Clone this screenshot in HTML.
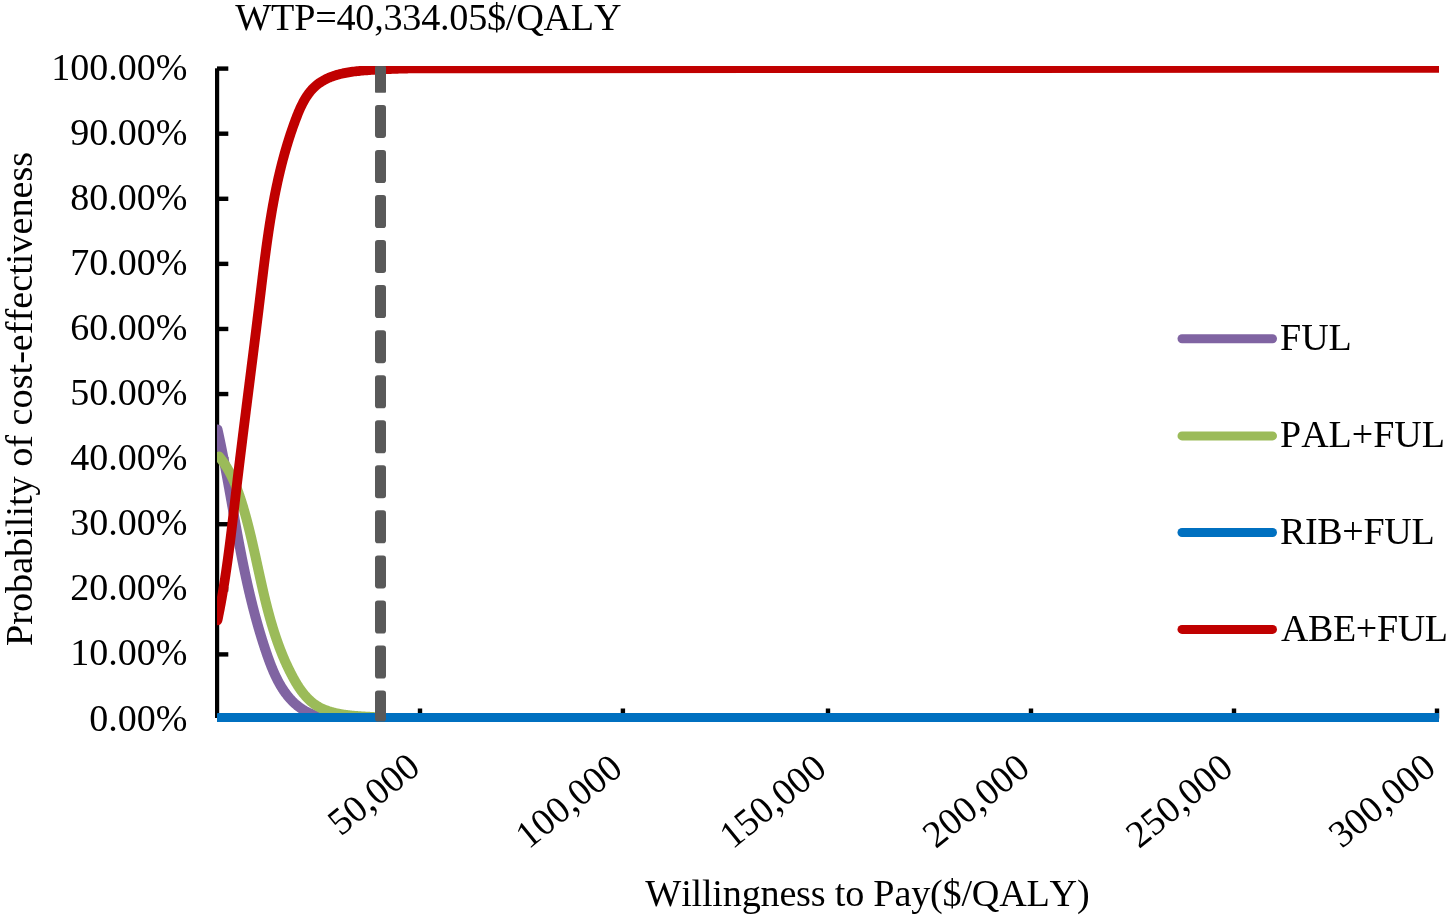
<!DOCTYPE html>
<html><head><meta charset="utf-8"><style>
html,body{margin:0;padding:0;background:#fff;overflow:hidden;}
svg{display:block;will-change:transform;}
text{font-family:"Liberation Serif",serif;font-size:38px;fill:#000;font-kerning:none;}
</style></head><body>
<svg width="1451" height="919" viewBox="0 0 1451 919">
<defs><clipPath id="plot"><rect x="217" y="66" width="1222" height="660"/></clipPath></defs>
<rect width="1451" height="919" fill="#fff"/>
<text x="235.3" y="29.8" style="font-size:38.2px" textLength="386.2" lengthAdjust="spacing">WTP=40,334.05$/QALY</text>
<rect x="215" y="68.3" width="4.2" height="649.3" fill="#000"/>
<rect x="215" y="714" width="1222" height="4" fill="#000"/>
<rect x="217" y="717.30" width="11.3" height="4.4" fill="#000"/><rect x="217" y="652.21" width="11.3" height="4.4" fill="#000"/><rect x="217" y="587.12" width="11.3" height="4.4" fill="#000"/><rect x="217" y="522.03" width="11.3" height="4.4" fill="#000"/><rect x="217" y="456.94" width="11.3" height="4.4" fill="#000"/><rect x="217" y="391.85" width="11.3" height="4.4" fill="#000"/><rect x="217" y="326.76" width="11.3" height="4.4" fill="#000"/><rect x="217" y="261.67" width="11.3" height="4.4" fill="#000"/><rect x="217" y="196.58" width="11.3" height="4.4" fill="#000"/><rect x="217" y="131.49" width="11.3" height="4.4" fill="#000"/><rect x="217" y="66.40" width="11.3" height="4.4" fill="#000"/>
<rect x="417.80" y="708.5" width="4.4" height="10" fill="#000"/><rect x="620.70" y="708.5" width="4.4" height="10" fill="#000"/><rect x="825.80" y="708.5" width="4.4" height="10" fill="#000"/><rect x="1028.80" y="708.5" width="4.4" height="10" fill="#000"/><rect x="1231.80" y="708.5" width="4.4" height="10" fill="#000"/><rect x="1434.80" y="708.5" width="4.4" height="10" fill="#000"/>
<g><text x="187.5" y="730.50" text-anchor="end">0.00%</text><text x="187.5" y="665.41" text-anchor="end">10.00%</text><text x="187.5" y="600.32" text-anchor="end">20.00%</text><text x="187.5" y="535.23" text-anchor="end">30.00%</text><text x="187.5" y="470.14" text-anchor="end">40.00%</text><text x="187.5" y="405.05" text-anchor="end">50.00%</text><text x="187.5" y="339.96" text-anchor="end">60.00%</text><text x="187.5" y="274.87" text-anchor="end">70.00%</text><text x="187.5" y="209.78" text-anchor="end">80.00%</text><text x="187.5" y="144.69" text-anchor="end">90.00%</text><text x="187.5" y="79.60" text-anchor="end">100.00%</text></g>
<g><text transform="translate(422.00,770.90) rotate(-39)" text-anchor="end">50,000</text><text transform="translate(624.60,772.00) rotate(-39)" text-anchor="end">100,000</text><text transform="translate(828.50,772.00) rotate(-39)" text-anchor="end">150,000</text><text transform="translate(1031.80,771.60) rotate(-39)" text-anchor="end">200,000</text><text transform="translate(1234.90,771.50) rotate(-39)" text-anchor="end">250,000</text><text transform="translate(1437.70,771.40) rotate(-39)" text-anchor="end">300,000</text></g>
<g clip-path="url(#plot)" fill="none" stroke-width="9" stroke-linejoin="round" stroke-linecap="round">
<path d="M217.57,429.59 L217.72,430.26 L217.86,430.92 L218.01,431.59 L218.15,432.25 L218.29,432.91 L218.44,433.58 L218.58,434.24 L218.72,434.90 L218.87,435.57 L219.01,436.23 L219.15,436.89 L219.29,437.55 L219.43,438.22 L219.57,438.88 L219.71,439.54 L219.85,440.21 L219.99,440.87 L220.12,441.53 L220.26,442.19 L220.40,442.85 L220.54,443.52 L220.67,444.18 L220.81,444.84 L220.94,445.50 L221.08,446.17 L221.21,446.83 L221.35,447.49 L221.48,448.15 L221.62,448.81 L221.75,449.47 L221.88,450.14 L222.02,450.80 L222.15,451.46 L222.28,452.12 L222.41,452.78 L222.54,453.44 L222.67,454.10 L222.80,454.76 L222.93,455.42 L223.06,456.09 L223.19,456.75 L223.32,457.41 L223.45,458.07 L223.58,458.73 L223.71,459.39 L223.84,460.05 L223.97,460.71 L224.09,461.37 L224.22,462.03 L224.35,462.69 L224.47,463.35 L224.60,464.01 L224.73,464.67 L224.85,465.33 L224.98,465.99 L225.10,466.65 L225.23,467.31 L225.35,467.97 L225.48,468.63 L225.60,469.29 L225.72,469.95 L225.85,470.61 L225.97,471.27 L226.09,471.93 L226.22,472.59 L226.34,473.24 L226.46,473.90 L226.59,474.56 L226.71,475.22 L226.83,475.88 L226.95,476.54 L227.07,477.20 L227.19,477.86 L227.32,478.52 L227.44,479.17 L227.56,479.83 L227.68,480.49 L227.80,481.15 L227.92,481.81 L228.04,482.47 L228.16,483.12 L228.28,483.78 L228.40,484.44 L228.52,485.10 L228.64,485.76 L228.76,486.41 L228.88,487.07 L229.00,487.73 L229.12,488.39 L229.23,489.05 L229.35,489.70 L229.47,490.36 L229.59,491.02 L229.71,491.68 L229.83,492.33 L229.94,492.99 L230.06,493.65 L230.18,494.31 L230.30,494.96 L230.42,495.62 L230.53,496.28 L230.65,496.93 L230.77,497.59 L230.89,498.25 L231.01,498.91 L231.12,499.56 L231.24,500.22 L231.36,500.88 L231.47,501.53 L231.59,502.19 L231.71,502.85 L231.83,503.50 L231.94,504.16 L232.06,504.82 L232.18,505.47 L232.30,506.13 L232.41,506.78 L232.53,507.44 L232.65,508.10 L232.76,508.75 L232.88,509.41 L233.00,510.07 L233.12,510.72 L233.23,511.38 L233.35,512.03 L233.47,512.69 L233.59,513.34 L233.70,514.00 L233.82,514.66 L233.94,515.31 L234.06,515.97 L234.17,516.62 L234.29,517.28 L234.41,517.93 L234.53,518.59 L234.64,519.24 L234.76,519.90 L234.88,520.56 L235.00,521.21 L235.12,521.87 L235.23,522.52 L235.35,523.18 L235.47,523.83 L235.59,524.49 L235.71,525.14 L235.83,525.80 L235.95,526.45 L236.07,527.11 L236.19,527.76 L236.30,528.42 L236.42,529.07 L236.54,529.73 L236.66,530.38 L236.78,531.03 L236.90,531.69 L237.02,532.34 L237.14,533.00 L237.27,533.65 L237.39,534.31 L237.51,534.96 L237.63,535.62 L237.75,536.27 L237.87,536.93 L237.99,537.58 L238.11,538.23 L238.24,538.89 L238.36,539.54 L238.48,540.20 L238.60,540.85 L238.73,541.50 L238.85,542.16 L238.97,542.81 L239.10,543.47 L239.22,544.12 L239.34,544.77 L239.47,545.43 L239.59,546.08 L239.72,546.74 L239.84,547.39 L239.97,548.04 L240.09,548.70 L240.22,549.35 L240.35,550.00 L240.47,550.66 L240.60,551.31 L240.73,551.96 L240.85,552.62 L240.98,553.27 L241.11,553.93 L241.24,554.58 L241.37,555.23 L241.49,555.89 L241.62,556.54 L241.75,557.19 L241.88,557.85 L242.01,558.50 L242.14,559.15 L242.27,559.80 L242.40,560.46 L242.54,561.11 L242.67,561.76 L242.80,562.42 L242.93,563.07 L243.06,563.72 L243.20,564.38 L243.33,565.03 L243.46,565.68 L243.60,566.34 L243.73,566.99 L243.87,567.64 L244.00,568.29 L244.14,568.95 L244.28,569.60 L244.41,570.25 L244.55,570.90 L244.69,571.56 L244.82,572.21 L244.96,572.86 L245.10,573.52 L245.24,574.17 L245.38,574.82 L245.52,575.47 L245.66,576.13 L245.80,576.78 L245.94,577.43 L246.08,578.08 L246.23,578.74 L246.37,579.39 L246.51,580.04 L246.66,580.69 L246.80,581.35 L246.94,582.00 L247.09,582.65 L247.24,583.30 L247.38,583.96 L247.53,584.61 L247.67,585.26 L247.82,585.91 L247.97,586.56 L248.12,587.22 L248.27,587.87 L248.42,588.52 L248.57,589.17 L248.72,589.83 L248.87,590.48 L249.02,591.13 L249.17,591.78 L249.33,592.43 L249.48,593.09 L249.63,593.74 L249.79,594.39 L249.94,595.04 L250.10,595.69 L250.25,596.35 L250.41,597.00 L250.57,597.65 L250.73,598.30 L250.88,598.95 L251.04,599.61 L251.20,600.26 L251.36,600.91 L251.52,601.56 L251.68,602.21 L251.85,602.87 L252.01,603.52 L252.17,604.17 L252.34,604.82 L252.50,605.47 L252.67,606.13 L252.83,606.78 L253.00,607.43 L253.17,608.08 L253.33,608.73 L253.50,609.38 L253.67,610.04 L253.84,610.69 L254.01,611.34 L254.18,611.99 L254.35,612.64 L254.53,613.30 L254.70,613.95 L254.87,614.60 L255.05,615.25 L255.22,615.90 L255.40,616.55 L255.57,617.21 L255.75,617.86 L255.93,618.51 L256.11,619.16 L256.29,619.81 L256.47,620.46 L256.65,621.12 L256.83,621.77 L257.01,622.42 L257.19,623.07 L257.38,623.72 L257.56,624.37 L257.75,625.03 L257.93,625.68 L258.12,626.33 L258.31,626.98 L258.50,627.63 L258.69,628.29 L258.88,628.94 L259.07,629.59 L259.26,630.24 L259.45,630.89 L259.64,631.54 L259.84,632.20 L260.03,632.85 L260.23,633.50 L260.42,634.15 L260.62,634.80 L260.82,635.45 L261.02,636.11 L261.22,636.76 L261.42,637.41 L261.62,638.06 L261.82,638.71 L262.02,639.36 L262.23,640.02 L262.43,640.67 L262.64,641.32 L262.84,641.97 L263.05,642.62 L263.26,643.27 L263.47,643.93 L263.68,644.58 L263.89,645.23 L264.10,645.88 L264.31,646.53 L264.53,647.19 L264.74,647.84 L264.95,648.49 L265.17,649.14 L265.39,649.79 L265.61,650.44 L265.82,651.10 L266.04,651.75 L266.27,652.40 L266.49,653.05 L266.71,653.70 L266.93,654.35 L267.16,655.00 L267.39,655.65 L267.61,656.30 L267.84,656.95 L268.07,657.60 L268.31,658.25 L268.54,658.90 L268.77,659.54 L269.01,660.19 L269.25,660.84 L269.49,661.48 L269.73,662.12 L269.97,662.77 L270.21,663.41 L270.46,664.05 L270.71,664.69 L270.96,665.32 L271.21,665.96 L271.46,666.60 L271.72,667.23 L271.98,667.86 L272.23,668.50 L272.50,669.13 L272.76,669.75 L273.03,670.38 L273.29,671.01 L273.56,671.63 L273.83,672.25 L274.11,672.87 L274.39,673.49 L274.67,674.10 L274.95,674.72 L275.23,675.33 L275.52,675.94 L275.81,676.55 L276.10,677.15 L276.39,677.76 L276.69,678.36 L276.99,678.96 L277.29,679.55 L277.59,680.15 L277.90,680.74 L278.21,681.33 L278.53,681.91 L278.84,682.50 L279.16,683.08 L279.48,683.66 L279.81,684.23 L280.14,684.81 L280.47,685.37 L280.80,685.94 L281.14,686.51 L281.48,687.07 L281.83,687.62 L282.18,688.18 L282.53,688.73 L282.88,689.28 L283.24,689.82 L283.60,690.36 L283.96,690.90 L284.33,691.43 L284.70,691.97 L285.08,692.49 L285.46,693.02 L285.84,693.54 L286.23,694.05 L286.62,694.56 L287.01,695.07 L287.41,695.58 L287.81,696.08 L288.22,696.57 L288.63,697.07 L289.04,697.55 L289.46,698.04 L289.88,698.52 L290.31,698.99 L290.74,699.46 L291.18,699.93 L291.61,700.39 L292.06,700.85 L292.51,701.31 L292.96,701.75 L293.41,702.20 L293.87,702.64 L294.34,703.07 L294.81,703.50 L295.28,703.93 L295.76,704.35 L296.25,704.76 L296.74,705.17 L297.23,705.58 L297.73,705.98 L298.23,706.37 L298.74,706.76 L299.25,707.15 L299.77,707.53 L300.29,707.90 L300.82,708.27 L301.35,708.63 L301.89,708.99 L302.43,709.34 L302.98,709.69 L303.53,710.03 L304.09,710.36 L304.65,710.69 L305.22,711.01 L305.79,711.33 L306.37,711.64 L306.96,711.95 L307.54,712.24 L308.14,712.54 L308.74,712.82 L309.34,713.10 L309.95,713.37 L310.56,713.64 L311.18,713.90 L311.80,714.15 L312.42,714.40 L313.05,714.63 L313.69,714.86 L314.33,715.09 L314.97,715.30 L315.62,715.51 L316.27,715.71 L316.92,715.91 L317.58,716.09 L318.24,716.27 L318.91,716.44 L319.58,716.60 L320.25,716.75 L320.92,716.90 L321.60,717.04 L322.29,717.16 L322.97,717.28 L323.66,717.40 L324.35,717.50 L325.05,717.50 L325.75,717.50 L326.45,717.50 L327.15,717.50 L327.86,717.50 L328.57,717.50 L329.28,717.50 L329.99,717.50 L330.71,717.50 L331.43,717.50 L332.15,717.50 L332.87,717.50 L333.60,717.50 L334.33,717.50 L335.06,717.50 L335.79,717.50 L336.52,717.50 L337.26,717.50 L338.00,717.50 L338.74,717.50" stroke="#8064A2" stroke-width="10"/>
<path d="M219.01,456.49 L219.45,457.02 L219.87,457.55 L220.30,458.08 L220.72,458.61 L221.13,459.15 L221.54,459.69 L221.94,460.23 L222.34,460.77 L222.74,461.32 L223.13,461.87 L223.52,462.42 L223.90,462.97 L224.28,463.52 L224.65,464.08 L225.02,464.64 L225.39,465.21 L225.75,465.77 L226.11,466.34 L226.46,466.91 L226.81,467.48 L227.15,468.05 L227.50,468.62 L227.83,469.20 L228.17,469.78 L228.50,470.36 L228.82,470.94 L229.15,471.53 L229.47,472.12 L229.78,472.71 L230.10,473.30 L230.41,473.89 L230.71,474.48 L231.01,475.08 L231.31,475.68 L231.61,476.28 L231.90,476.88 L232.19,477.48 L232.48,478.08 L232.76,478.69 L233.04,479.30 L233.32,479.90 L233.59,480.51 L233.86,481.13 L234.13,481.74 L234.40,482.35 L234.66,482.97 L234.92,483.59 L235.18,484.21 L235.44,484.82 L235.69,485.45 L235.94,486.07 L236.19,486.69 L236.43,487.32 L236.68,487.94 L236.92,488.57 L237.16,489.20 L237.39,489.83 L237.63,490.46 L237.86,491.09 L238.09,491.72 L238.32,492.35 L238.54,492.99 L238.77,493.62 L238.99,494.26 L239.21,494.89 L239.43,495.53 L239.64,496.17 L239.86,496.81 L240.07,497.45 L240.28,498.09 L240.49,498.73 L240.70,499.37 L240.91,500.01 L241.12,500.65 L241.32,501.30 L241.52,501.94 L241.73,502.58 L241.93,503.23 L242.13,503.87 L242.32,504.52 L242.52,505.16 L242.72,505.81 L242.91,506.46 L243.11,507.10 L243.30,507.75 L243.49,508.40 L243.68,509.05 L243.87,509.69 L244.06,510.34 L244.25,510.99 L244.43,511.64 L244.62,512.29 L244.80,512.94 L244.99,513.59 L245.17,514.24 L245.35,514.89 L245.53,515.55 L245.71,516.20 L245.89,516.85 L246.07,517.50 L246.25,518.15 L246.42,518.81 L246.60,519.46 L246.78,520.11 L246.95,520.77 L247.12,521.42 L247.29,522.08 L247.47,522.73 L247.64,523.39 L247.81,524.04 L247.98,524.70 L248.14,525.35 L248.31,526.01 L248.48,526.67 L248.64,527.32 L248.81,527.98 L248.97,528.64 L249.14,529.29 L249.30,529.95 L249.46,530.61 L249.63,531.27 L249.79,531.92 L249.95,532.58 L250.11,533.24 L250.27,533.90 L250.43,534.56 L250.59,535.22 L250.74,535.88 L250.90,536.54 L251.06,537.20 L251.21,537.86 L251.37,538.52 L251.53,539.18 L251.68,539.84 L251.83,540.50 L251.99,541.16 L252.14,541.82 L252.30,542.48 L252.45,543.14 L252.60,543.80 L252.75,544.47 L252.90,545.13 L253.05,545.79 L253.20,546.45 L253.35,547.11 L253.50,547.78 L253.65,548.44 L253.80,549.10 L253.95,549.76 L254.10,550.43 L254.25,551.09 L254.40,551.75 L254.54,552.41 L254.69,553.08 L254.84,553.74 L254.99,554.40 L255.13,555.07 L255.28,555.73 L255.43,556.39 L255.57,557.06 L255.72,557.72 L255.86,558.38 L256.01,559.05 L256.16,559.71 L256.30,560.37 L256.45,561.04 L256.59,561.70 L256.74,562.37 L256.88,563.03 L257.03,563.69 L257.17,564.36 L257.32,565.02 L257.46,565.68 L257.61,566.35 L257.75,567.01 L257.90,567.68 L258.04,568.34 L258.19,569.00 L258.33,569.67 L258.48,570.33 L258.62,570.99 L258.77,571.66 L258.92,572.32 L259.06,572.99 L259.21,573.65 L259.35,574.31 L259.50,574.98 L259.64,575.64 L259.79,576.30 L259.94,576.97 L260.08,577.63 L260.23,578.29 L260.38,578.95 L260.53,579.62 L260.67,580.28 L260.82,580.94 L260.97,581.61 L261.12,582.27 L261.27,582.93 L261.42,583.59 L261.56,584.26 L261.71,584.92 L261.86,585.58 L262.01,586.24 L262.17,586.90 L262.32,587.56 L262.47,588.23 L262.62,588.89 L262.77,589.55 L262.92,590.21 L263.08,590.87 L263.23,591.53 L263.39,592.19 L263.54,592.85 L263.69,593.51 L263.85,594.17 L264.01,594.83 L264.16,595.49 L264.32,596.15 L264.48,596.81 L264.64,597.47 L264.79,598.13 L264.95,598.79 L265.11,599.45 L265.27,600.10 L265.43,600.76 L265.60,601.42 L265.76,602.08 L265.92,602.73 L266.08,603.39 L266.25,604.05 L266.41,604.71 L266.58,605.36 L266.75,606.02 L266.91,606.67 L267.08,607.33 L267.25,607.98 L267.42,608.64 L267.59,609.29 L267.76,609.95 L267.93,610.60 L268.10,611.26 L268.28,611.91 L268.45,612.56 L268.63,613.22 L268.80,613.87 L268.98,614.52 L269.16,615.18 L269.33,615.83 L269.51,616.48 L269.69,617.13 L269.87,617.78 L270.06,618.43 L270.24,619.08 L270.42,619.73 L270.61,620.38 L270.79,621.03 L270.98,621.68 L271.17,622.33 L271.36,622.98 L271.55,623.62 L271.74,624.27 L271.93,624.92 L272.13,625.56 L272.32,626.21 L272.51,626.86 L272.71,627.50 L272.91,628.15 L273.11,628.79 L273.31,629.44 L273.51,630.08 L273.71,630.72 L273.91,631.37 L274.12,632.01 L274.32,632.65 L274.53,633.29 L274.74,633.93 L274.95,634.58 L275.16,635.22 L275.37,635.86 L275.58,636.50 L275.80,637.13 L276.01,637.77 L276.23,638.41 L276.45,639.05 L276.67,639.69 L276.89,640.32 L277.11,640.96 L277.34,641.60 L277.56,642.23 L277.79,642.87 L278.02,643.50 L278.25,644.13 L278.48,644.77 L278.71,645.40 L278.94,646.03 L279.18,646.66 L279.41,647.30 L279.65,647.93 L279.89,648.56 L280.13,649.19 L280.38,649.82 L280.62,650.44 L280.86,651.07 L281.11,651.70 L281.36,652.33 L281.61,652.95 L281.86,653.58 L282.12,654.20 L282.37,654.83 L282.63,655.45 L282.89,656.08 L283.15,656.70 L283.41,657.32 L283.67,657.94 L283.94,658.57 L284.21,659.19 L284.47,659.81 L284.74,660.43 L285.02,661.04 L285.29,661.66 L285.57,662.28 L285.84,662.90 L286.12,663.51 L286.40,664.13 L286.69,664.74 L286.97,665.36 L287.26,665.97 L287.55,666.58 L287.84,667.20 L288.13,667.81 L288.42,668.42 L288.72,669.03 L289.01,669.64 L289.31,670.25 L289.62,670.86 L289.92,671.47 L290.22,672.07 L290.53,672.68 L290.84,673.28 L291.15,673.89 L291.47,674.49 L291.78,675.10 L292.10,675.70 L292.42,676.30 L292.74,676.90 L293.06,677.50 L293.39,678.10 L293.72,678.70 L294.05,679.29 L294.38,679.89 L294.72,680.48 L295.06,681.07 L295.40,681.66 L295.74,682.25 L296.09,682.83 L296.44,683.41 L296.79,683.99 L297.15,684.57 L297.51,685.14 L297.87,685.71 L298.23,686.28 L298.60,686.85 L298.97,687.41 L299.35,687.97 L299.73,688.53 L300.11,689.08 L300.49,689.63 L300.88,690.17 L301.27,690.71 L301.67,691.25 L302.07,691.79 L302.47,692.31 L302.88,692.84 L303.29,693.36 L303.71,693.88 L304.13,694.39 L304.55,694.89 L304.98,695.40 L305.41,695.89 L305.85,696.38 L306.29,696.87 L306.73,697.35 L307.18,697.83 L307.64,698.30 L308.10,698.76 L308.56,699.22 L309.03,699.67 L309.50,700.12 L309.98,700.56 L310.46,700.99 L310.95,701.42 L311.44,701.84 L311.94,702.25 L312.44,702.66 L312.95,703.06 L313.47,703.46 L313.99,703.84 L314.51,704.22 L315.04,704.59 L315.58,704.96 L316.12,705.32 L316.67,705.67 L317.22,706.01 L317.78,706.34 L318.34,706.67 L318.91,706.99 L319.48,707.30 L320.06,707.61 L320.64,707.90 L321.23,708.20 L321.82,708.48 L322.42,708.76 L323.02,709.03 L323.63,709.29 L324.24,709.55 L324.85,709.80 L325.47,710.05 L326.10,710.29 L326.72,710.52 L327.35,710.75 L327.99,710.97 L328.62,711.18 L329.27,711.39 L329.91,711.59 L330.56,711.79 L331.21,711.98 L331.86,712.17 L332.52,712.35 L333.18,712.53 L333.84,712.70 L334.50,712.87 L335.17,713.03 L335.84,713.18 L336.51,713.33 L337.19,713.48 L337.86,713.62 L338.54,713.76 L339.22,713.89 L339.90,714.02 L340.59,714.14 L341.27,714.26 L341.96,714.38 L342.65,714.49 L343.33,714.60 L344.02,714.70 L344.72,714.80 L345.41,714.90 L346.10,714.99 L346.80,715.08 L347.49,715.17 L348.19,715.25 L348.88,715.33 L349.58,715.41 L350.27,715.48 L350.97,715.55 L351.67,715.62 L352.36,715.69 L353.06,715.75 L353.76,715.81 L354.45,715.87 L355.15,715.93 L355.84,715.98 L356.54,716.04 L357.23,716.09 L357.93,716.14 L358.62,716.19 L359.31,716.23 L360.00,716.28 L360.69,716.33 L361.38,716.37 L362.07,716.41 L362.75,716.45 L363.44,716.50 L364.12,716.54 L364.80,716.58 L365.48,716.62 L366.16,716.66 L366.83,716.70 L367.51,716.74 L368.18,716.78 L368.85,716.82 L369.51,716.86 L370.18,716.90 L370.84,716.94 L371.50,716.98 L372.15,717.02 L372.81,717.07 L373.46,717.11 L374.11,717.16 L374.75,717.20 L375.39,717.25 L376.03,717.30 L376.66,717.35 L377.30,717.41 L377.92,717.46 L378.55,717.50 L379.17,717.50 L379.79,717.50" stroke="#9BBB59" stroke-width="10"/>
<rect x="217" y="722" width="200" height="4" fill="#fff" stroke="none"/>
<path d="M218.6,717.5 L1445.0,717.5" stroke="#0070C0"/>
<path d="M217.48,620.36 L217.76,619.00 L218.04,617.64 L218.32,616.27 L218.59,614.91 L218.87,613.54 L219.13,612.18 L219.40,610.81 L219.67,609.45 L219.93,608.08 L220.19,606.71 L220.44,605.35 L220.70,603.98 L220.95,602.61 L221.20,601.24 L221.44,599.87 L221.69,598.50 L221.93,597.13 L222.17,595.76 L222.40,594.39 L222.64,593.02 L222.87,591.65 L223.10,590.28 L223.33,588.90 L223.56,587.53 L223.78,586.16 L224.00,584.79 L224.22,583.41 L224.44,582.04 L224.66,580.66 L224.87,579.29 L225.08,577.91 L225.29,576.54 L225.50,575.16 L225.71,573.79 L225.91,572.41 L226.12,571.03 L226.32,569.66 L226.52,568.28 L226.72,566.90 L226.92,565.52 L227.11,564.15 L227.31,562.77 L227.50,561.39 L227.69,560.01 L227.88,558.63 L228.07,557.25 L228.25,555.87 L228.44,554.49 L228.62,553.11 L228.81,551.73 L228.99,550.35 L229.17,548.97 L229.35,547.59 L229.53,546.21 L229.71,544.83 L229.88,543.45 L230.06,542.07 L230.23,540.68 L230.41,539.30 L230.58,537.92 L230.75,536.54 L230.92,535.16 L231.09,533.77 L231.26,532.39 L231.43,531.01 L231.60,529.63 L231.76,528.24 L231.93,526.86 L232.10,525.48 L232.26,524.10 L232.43,522.71 L232.59,521.33 L232.76,519.95 L232.92,518.56 L233.08,517.18 L233.25,515.80 L233.41,514.41 L233.57,513.03 L233.73,511.65 L233.90,510.26 L234.06,508.88 L234.22,507.50 L234.38,506.11 L234.54,504.73 L234.70,503.35 L234.86,501.96 L235.02,500.58 L235.19,499.20 L235.35,497.81 L235.51,496.43 L235.67,495.05 L235.83,493.66 L235.99,492.28 L236.16,490.90 L236.32,489.51 L236.48,488.13 L236.64,486.75 L236.81,485.36 L236.97,483.98 L237.14,482.60 L237.30,481.22 L237.46,479.83 L237.63,478.45 L237.79,477.07 L237.96,475.69 L238.13,474.31 L238.29,472.92 L238.46,471.54 L238.62,470.16 L238.79,468.78 L238.96,467.39 L239.12,466.01 L239.29,464.63 L239.46,463.25 L239.63,461.87 L239.80,460.49 L239.96,459.10 L240.13,457.72 L240.30,456.34 L240.47,454.96 L240.64,453.58 L240.81,452.20 L240.98,450.82 L241.15,449.43 L241.32,448.05 L241.49,446.67 L241.66,445.29 L241.83,443.91 L242.00,442.53 L242.17,441.15 L242.34,439.77 L242.51,438.38 L242.68,437.00 L242.85,435.62 L243.03,434.24 L243.20,432.86 L243.37,431.48 L243.54,430.10 L243.71,428.72 L243.89,427.34 L244.06,425.96 L244.23,424.58 L244.40,423.20 L244.58,421.81 L244.75,420.43 L244.92,419.05 L245.10,417.67 L245.27,416.29 L245.44,414.91 L245.62,413.53 L245.79,412.15 L245.96,410.77 L246.14,409.39 L246.31,408.01 L246.48,406.63 L246.66,405.25 L246.83,403.87 L247.00,402.49 L247.18,401.10 L247.35,399.72 L247.53,398.34 L247.70,396.96 L247.88,395.58 L248.05,394.20 L248.22,392.82 L248.40,391.44 L248.57,390.06 L248.75,388.68 L248.92,387.30 L249.10,385.92 L249.27,384.54 L249.44,383.16 L249.62,381.78 L249.79,380.39 L249.97,379.01 L250.14,377.63 L250.31,376.25 L250.49,374.87 L250.66,373.49 L250.84,372.11 L251.01,370.73 L251.19,369.35 L251.36,367.97 L251.53,366.59 L251.71,365.20 L251.88,363.82 L252.06,362.44 L252.23,361.06 L252.40,359.68 L252.58,358.30 L252.75,356.92 L252.92,355.54 L253.10,354.15 L253.27,352.77 L253.44,351.39 L253.62,350.01 L253.79,348.63 L253.96,347.25 L254.14,345.87 L254.31,344.48 L254.48,343.10 L254.65,341.72 L254.83,340.34 L255.00,338.96 L255.17,337.57 L255.34,336.19 L255.51,334.81 L255.69,333.43 L255.86,332.05 L256.03,330.66 L256.20,329.28 L256.37,327.90 L256.54,326.52 L256.71,325.13 L256.88,323.75 L257.05,322.37 L257.22,320.99 L257.39,319.60 L257.56,318.22 L257.73,316.84 L257.90,315.45 L258.07,314.07 L258.24,312.69 L258.41,311.31 L258.58,309.92 L258.75,308.54 L258.92,307.16 L259.08,305.77 L259.25,304.39 L259.42,303.00 L259.59,301.62 L259.75,300.24 L259.92,298.85 L260.09,297.47 L260.25,296.08 L260.42,294.70 L260.59,293.32 L260.75,291.93 L260.92,290.55 L261.08,289.16 L261.25,287.78 L261.42,286.39 L261.58,285.01 L261.75,283.62 L261.92,282.24 L262.08,280.86 L262.25,279.47 L262.42,278.09 L262.59,276.70 L262.76,275.32 L262.93,273.93 L263.10,272.55 L263.27,271.17 L263.44,269.78 L263.61,268.40 L263.78,267.01 L263.96,265.63 L264.13,264.25 L264.30,262.86 L264.48,261.48 L264.66,260.10 L264.83,258.72 L265.01,257.33 L265.19,255.95 L265.37,254.57 L265.56,253.19 L265.74,251.80 L265.92,250.42 L266.11,249.04 L266.29,247.66 L266.48,246.28 L266.67,244.90 L266.86,243.52 L267.05,242.14 L267.25,240.76 L267.44,239.38 L267.64,238.00 L267.84,236.62 L268.04,235.24 L268.24,233.86 L268.44,232.48 L268.65,231.10 L268.86,229.73 L269.06,228.35 L269.28,226.97 L269.49,225.60 L269.70,224.22 L269.92,222.84 L270.14,221.47 L270.36,220.09 L270.58,218.72 L270.81,217.34 L271.04,215.97 L271.27,214.60 L271.50,213.22 L271.73,211.85 L271.97,210.48 L272.21,209.11 L272.45,207.74 L272.69,206.37 L272.94,205.00 L273.19,203.63 L273.44,202.26 L273.70,200.89 L273.95,199.52 L274.21,198.16 L274.48,196.79 L274.74,195.42 L275.01,194.06 L275.28,192.69 L275.56,191.33 L275.84,189.96 L276.12,188.60 L276.40,187.24 L276.69,185.87 L276.98,184.51 L277.27,183.15 L277.57,181.79 L277.87,180.43 L278.17,179.07 L278.48,177.72 L278.79,176.36 L279.10,175.00 L279.42,173.64 L279.74,172.29 L280.06,170.93 L280.39,169.58 L280.72,168.23 L281.06,166.87 L281.40,165.52 L281.74,164.17 L282.09,162.82 L282.44,161.47 L282.79,160.12 L283.15,158.77 L283.51,157.43 L283.88,156.08 L284.25,154.74 L284.62,153.39 L285.00,152.05 L285.39,150.70 L285.77,149.36 L286.16,148.02 L286.56,146.68 L286.96,145.34 L287.37,144.00 L287.78,142.66 L288.19,141.33 L288.61,139.99 L289.03,138.65 L289.46,137.32 L289.89,135.99 L290.33,134.66 L290.77,133.32 L291.21,131.99 L291.67,130.66 L292.12,129.34 L292.58,128.01 L293.05,126.68 L293.52,125.36 L294.00,124.03 L294.48,122.71 L294.96,121.39 L295.45,120.06 L295.95,118.74 L296.45,117.43 L296.96,116.11 L297.48,114.80 L298.01,113.49 L298.54,112.19 L299.09,110.90 L299.65,109.62 L300.22,108.34 L300.80,107.07 L301.39,105.82 L302.01,104.57 L302.63,103.34 L303.27,102.12 L303.93,100.92 L304.61,99.73 L305.31,98.56 L306.02,97.41 L306.76,96.27 L307.51,95.16 L308.29,94.06 L309.10,92.99 L309.92,91.93 L310.77,90.91 L311.65,89.90 L312.55,88.92 L313.48,87.97 L314.44,87.04 L315.43,86.14 L316.44,85.27 L317.49,84.43 L318.56,83.62 L319.66,82.84 L320.79,82.09 L321.94,81.36 L323.12,80.67 L324.32,80.00 L325.54,79.36 L326.78,78.74 L328.04,78.16 L329.32,77.60 L330.61,77.07 L331.92,76.56 L333.24,76.09 L334.58,75.63 L335.93,75.21 L337.29,74.80 L338.66,74.42 L340.04,74.07 L341.44,73.73 L342.83,73.41 L344.24,73.12 L345.65,72.84 L347.07,72.58 L348.49,72.34 L349.91,72.11 L351.34,71.89 L352.76,71.69 L354.19,71.51 L355.62,71.33 L357.04,71.17 L358.47,71.01 L359.89,70.87 L361.31,70.73 L362.73,70.60 L364.15,70.48 L365.56,70.37 L366.97,70.26 L368.38,70.16 L369.79,70.06 L371.20,69.97 L372.60,69.88 L374.00,69.79 L375.40,69.71 L376.80,69.63 L378.19,69.55 L379.58,69.48 L380.97,69.41 L382.36,69.34 L383.74,69.27 L385.13,69.21 L386.51,69.15 L387.89,69.09 L389.27,69.03 L390.65,68.98 L392.02,68.93 L393.40,68.88 L394.77,68.83 L396.15,68.78 L397.52,68.74 L398.89,68.70 L400.26,68.66 L401.63,68.63 L403.00,68.59 L404.37,68.56 L405.74,68.53 L407.11,68.50 L408.48,68.47 L409.85,68.45 L411.22,68.43 L412.59,68.40 L413.96,68.38 L415.33,68.36 L416.70,68.35 L418.07,68.33 L419.44,68.32 L420.82,68.30 L422.19,68.29 L423.57,68.28 L424.94,68.27 L426.32,68.26 L427.70,68.26 L429.08,68.25 L430.46,68.25 L431.85,68.24 L433.23,68.24 L434.62,68.24 L436.01,68.23 L437.40,68.23 L438.79,68.23 L440.19,68.23 L441.59,68.24 L442.99,68.24 L444.39,68.24 L445.80,68.24 L447.20,68.25 L448.62,68.25 L450.03,68.25 L451.45,68.26 L452.87,68.26 L454.29,68.27 L455.72,68.27 L457.15,68.28 L458.59,68.28 L460.02,68.29 L1445.00,67.90" stroke="#C00000" stroke-width="9.8"/>
</g>
<g fill="#595959"><rect x="375" y="66.00" width="11" height="26.85" rx="2.8" ry="0.6"/><rect x="375" y="104.90" width="11" height="33.00" rx="2.8" ry="2.8"/><rect x="375" y="149.95" width="11" height="33.00" rx="2.8" ry="2.8"/><rect x="375" y="195.00" width="11" height="33.00" rx="2.8" ry="2.8"/><rect x="375" y="240.05" width="11" height="33.00" rx="2.8" ry="2.8"/><rect x="375" y="285.10" width="11" height="33.00" rx="2.8" ry="2.8"/><rect x="375" y="330.15" width="11" height="33.00" rx="2.8" ry="2.8"/><rect x="375" y="375.20" width="11" height="33.00" rx="2.8" ry="2.8"/><rect x="375" y="420.25" width="11" height="33.00" rx="2.8" ry="2.8"/><rect x="375" y="465.30" width="11" height="33.00" rx="2.8" ry="2.8"/><rect x="375" y="510.35" width="11" height="33.00" rx="2.8" ry="2.8"/><rect x="375" y="555.40" width="11" height="33.00" rx="2.8" ry="2.8"/><rect x="375" y="600.45" width="11" height="33.00" rx="2.8" ry="2.8"/><rect x="375" y="645.50" width="11" height="33.00" rx="2.8" ry="2.8"/><rect x="375" y="690.55" width="11" height="31.05" rx="2.8" ry="2.8"/></g>
<g stroke-width="9" stroke-linecap="round">
<line x1="1182" y1="338.7" x2="1272.5" y2="338.7" stroke="#8064A2"/>
<line x1="1182" y1="435.9" x2="1272.5" y2="435.9" stroke="#9BBB59"/>
<line x1="1182" y1="532.5" x2="1272.5" y2="532.5" stroke="#0070C0"/>
<line x1="1182" y1="629.4" x2="1272.5" y2="629.4" stroke="#C00000"/>
</g>
<text x="1280" y="349.8">FUL</text>
<text x="1280" y="446.7">PAL+FUL</text>
<text x="1280" y="543.6" textLength="154.6" lengthAdjust="spacing">RIB+FUL</text>
<text x="1281" y="640.5" textLength="166.9" lengthAdjust="spacing">ABE+FUL</text>
<text x="645.3" y="906.4" style="font-size:38.2px" textLength="444.4" lengthAdjust="spacing">Willingness to Pay($/QALY)</text>
<text transform="translate(32,646) rotate(-90)" style="font-size:38.2px">Probability of cost-effectiveness</text>
</svg>
</body></html>
